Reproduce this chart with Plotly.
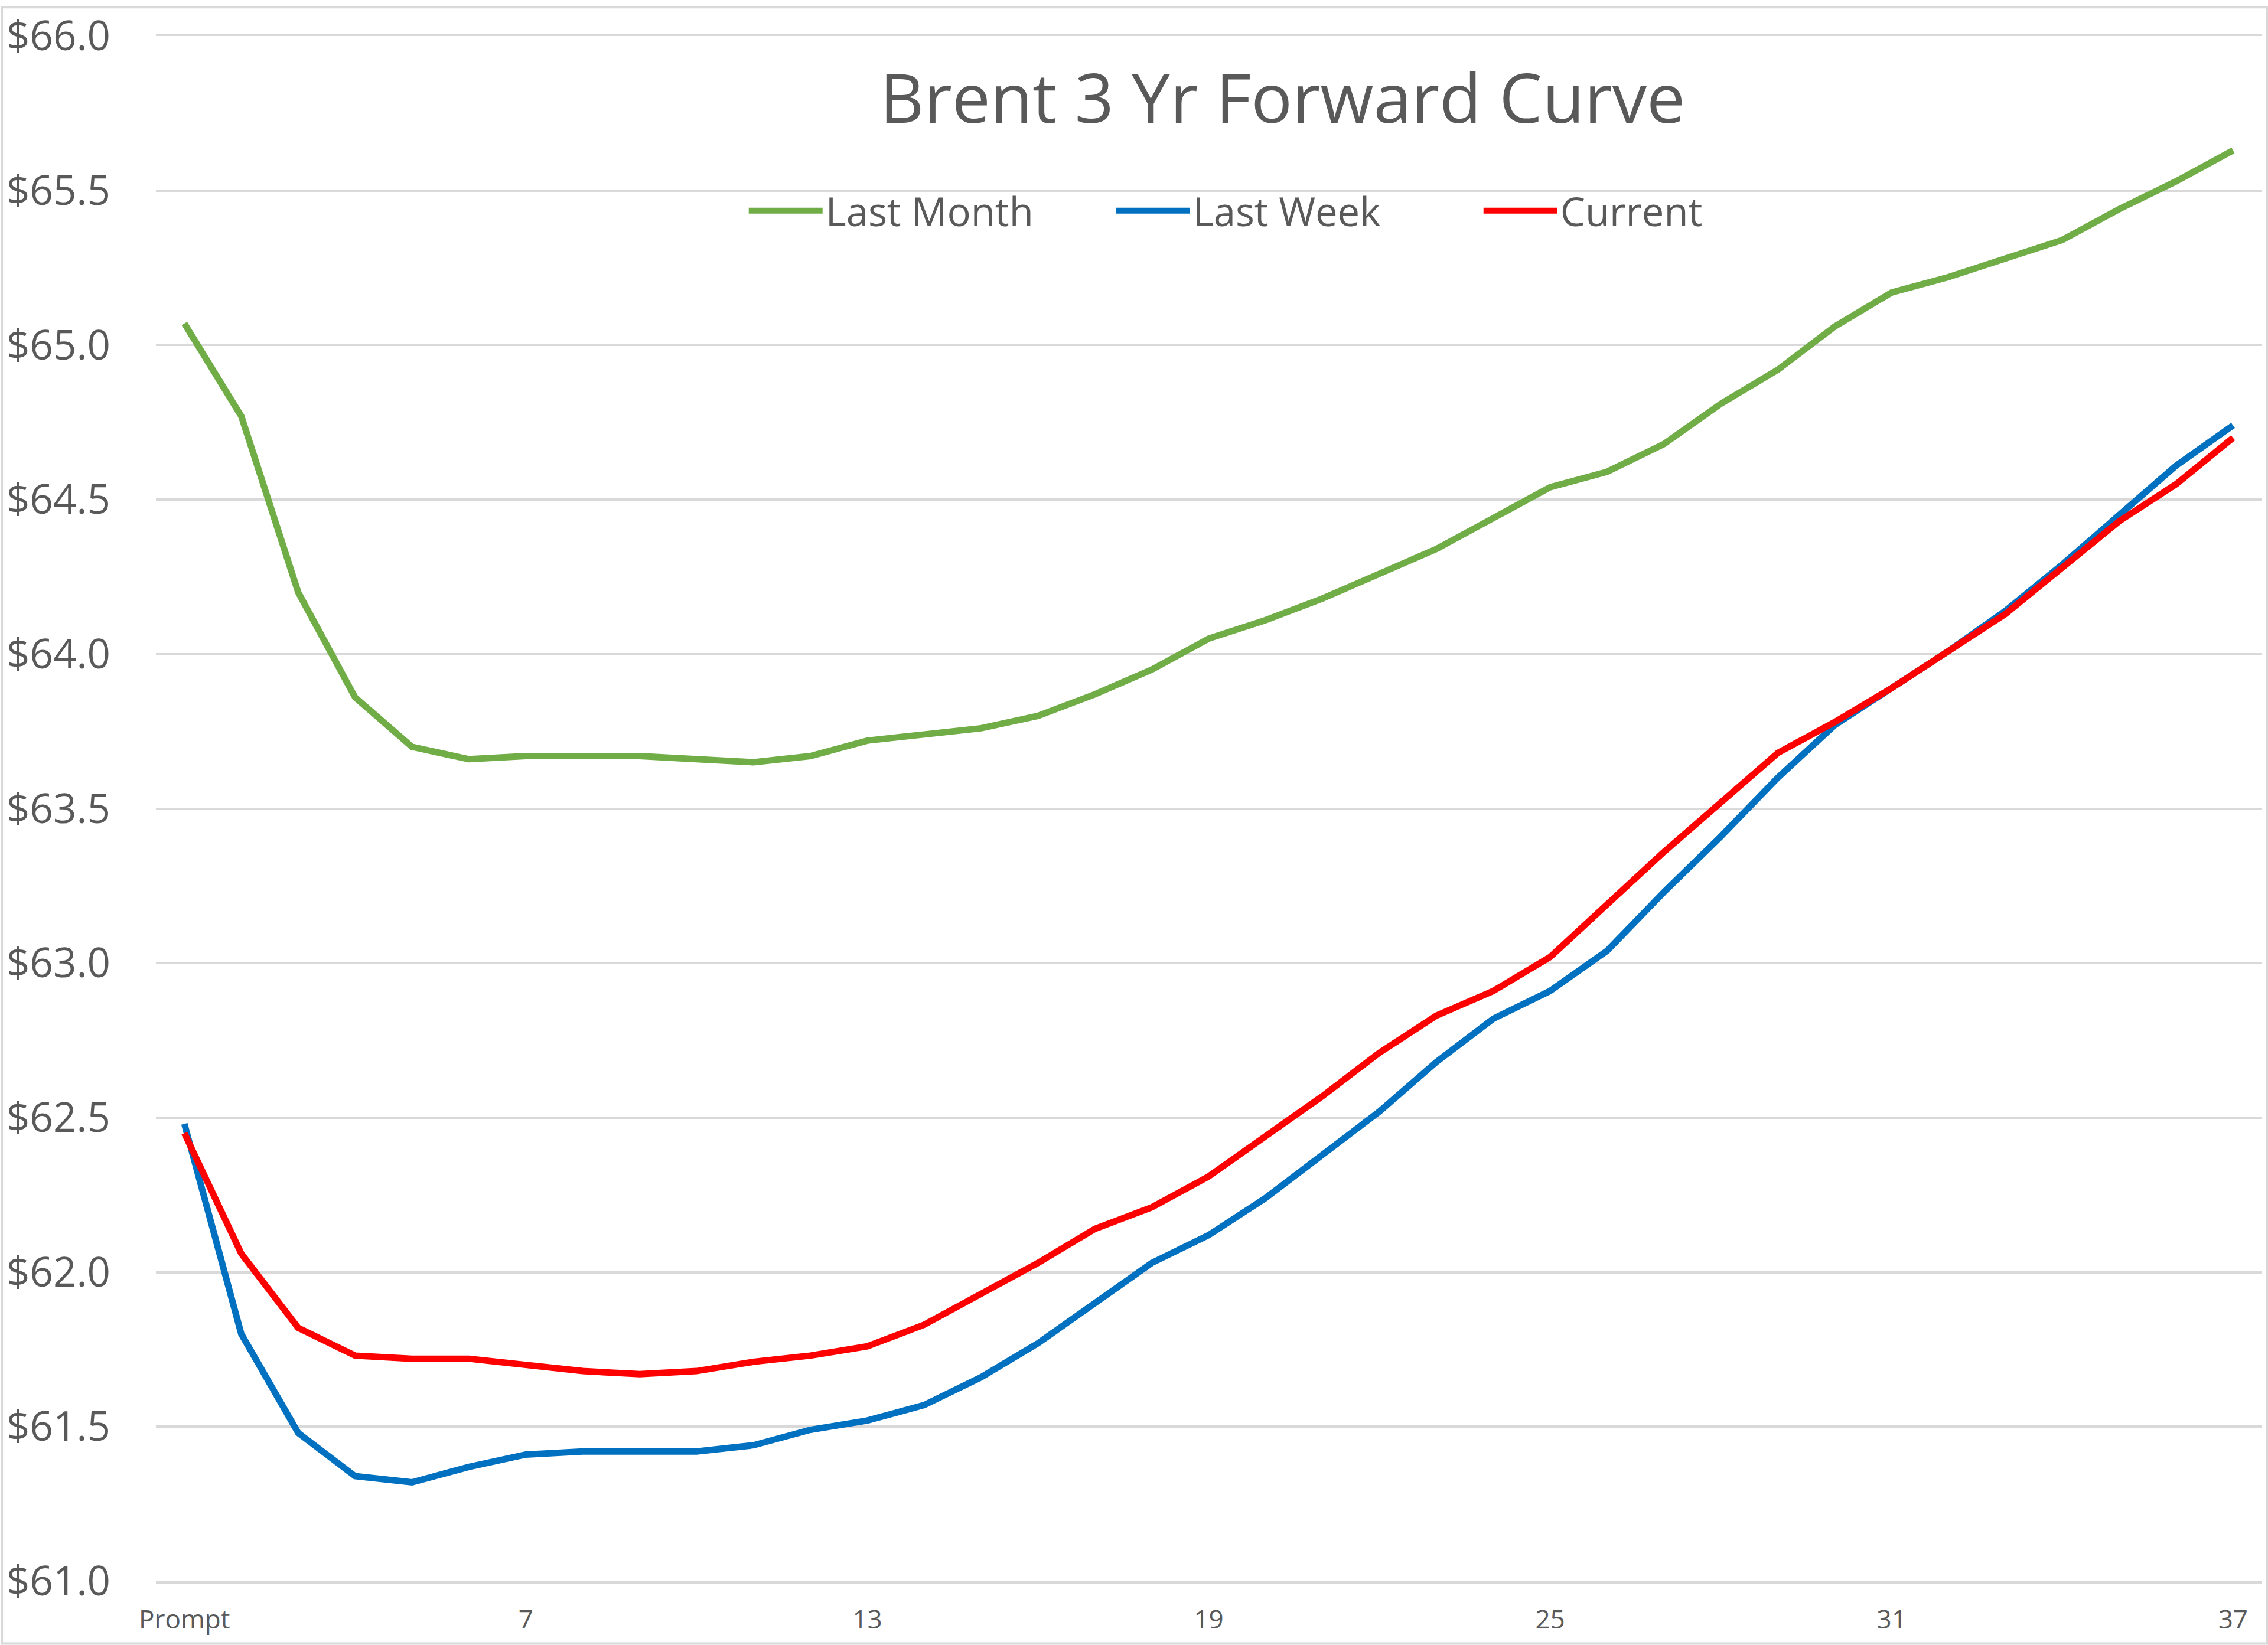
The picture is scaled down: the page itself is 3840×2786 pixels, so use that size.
import plotly.graph_objects as go

# ---- data ----
months = list(range(1, 38))
tick_vals = [1, 7, 13, 19, 25, 31, 37]
tick_text = ["Prompt", "7", "13", "19", "25", "31", "37"]

last_month = [65.07, 64.77, 64.20, 63.86, 63.70, 63.66, 63.67, 63.67, 63.67, 63.66,
              63.65, 63.67, 63.72, 63.74, 63.76, 63.80, 63.87, 63.95, 64.05, 64.11,
              64.18, 64.26, 64.34, 64.44, 64.54, 64.59, 64.68, 64.81, 64.92, 65.06,
              65.17, 65.22, 65.28, 65.34, 65.44, 65.53, 65.63]

last_week = [62.48, 61.80, 61.48, 61.34, 61.32, 61.37, 61.41, 61.42, 61.42, 61.42,
             61.44, 61.49, 61.52, 61.57, 61.66, 61.77, 61.90, 62.03, 62.12, 62.24,
             62.38, 62.52, 62.68, 62.82, 62.91, 63.04, 63.23, 63.41, 63.60, 63.77,
             63.89, 64.01, 64.14, 64.29, 64.45, 64.61, 64.74]

current = [62.45, 62.06, 61.82, 61.73, 61.72, 61.72, 61.70, 61.68, 61.67, 61.68,
           61.71, 61.73, 61.76, 61.83, 61.93, 62.03, 62.14, 62.21, 62.31, 62.44,
           62.57, 62.71, 62.83, 62.91, 63.02, 63.19, 63.36, 63.52, 63.68, 63.78,
           63.89, 64.01, 64.13, 64.28, 64.43, 64.55, 64.70]

series = [
    ("Last Month", last_month, "#70AD47"),
    ("Last Week", last_week, "#0070C0"),
    ("Current", current, "#FF0000"),
]

W, H = 3840, 2786
ML, MR, MT, MB = 263, 11, 51, 108
TEXT = "#595959"
GRID = "#D9D9D9"
FONT = "Open Sans"

fig = go.Figure()
for name, vals, color in series:
    fig.add_trace(go.Scatter(
        x=months, y=vals, name=name, mode="lines",
        line=dict(color=color, width=11, shape="linear"),
    ))

pw = W - ML - MR
ph = H - MT - MB
fig.add_shape(type="rect", xref="paper", yref="paper",
              x0=(2 - ML) / pw, x1=(W - 2 - ML) / pw,
              y0=(H - MB - (H - 2)) / ph, y1=(H - MB - 2) / ph,
              line=dict(color=GRID, width=4), fillcolor="rgba(0,0,0,0)", layer="below")

fig.update_layout(
    width=W, height=H,
    margin=dict(l=ML, r=MR, t=MT, b=MB),
    paper_bgcolor="white", plot_bgcolor="white",
    font=dict(family=FONT, color=TEXT),
    title=dict(text="Brent 3 Yr Forward Curve", x=0.535, xref="paper",
               y=1 - 167 / H, yref="container", xanchor="center", yanchor="middle",
               font=dict(size=116, color=TEXT, family=FONT)),
    legend=dict(orientation="h", x=(1262 - ML) / pw, xanchor="left",
                y=0.8868, yanchor="middle",
                font=dict(size=67, color=TEXT, family=FONT),
                bgcolor="rgba(0,0,0,0)", itemwidth=125, entrywidthmode="pixels",
                entrywidth=482, traceorder="normal"),
    showlegend=True,
)

fig.update_xaxes(
    range=[0.5, 37.5], tickmode="array", tickvals=tick_vals, ticktext=tick_text,
    showgrid=False, zeroline=False, showline=True, mirror=True, linecolor=GRID, linewidth=4,
    ticks="", tickfont=dict(size=44, color=TEXT, family=FONT), ticklabelstandoff=23,
)
fig.update_yaxes(
    range=[61, 66], tick0=61, dtick=0.5, tickformat="$.1f",
    showgrid=True, gridcolor=GRID, gridwidth=4, zeroline=False, showline=False,
    ticks="", tickfont=dict(size=69, color=TEXT, family=FONT), ticklabelstandoff=76,
)

fig.write_html("out.html", config={"displayModeBar": False},
               post_script="document.body.style.margin='0';")
